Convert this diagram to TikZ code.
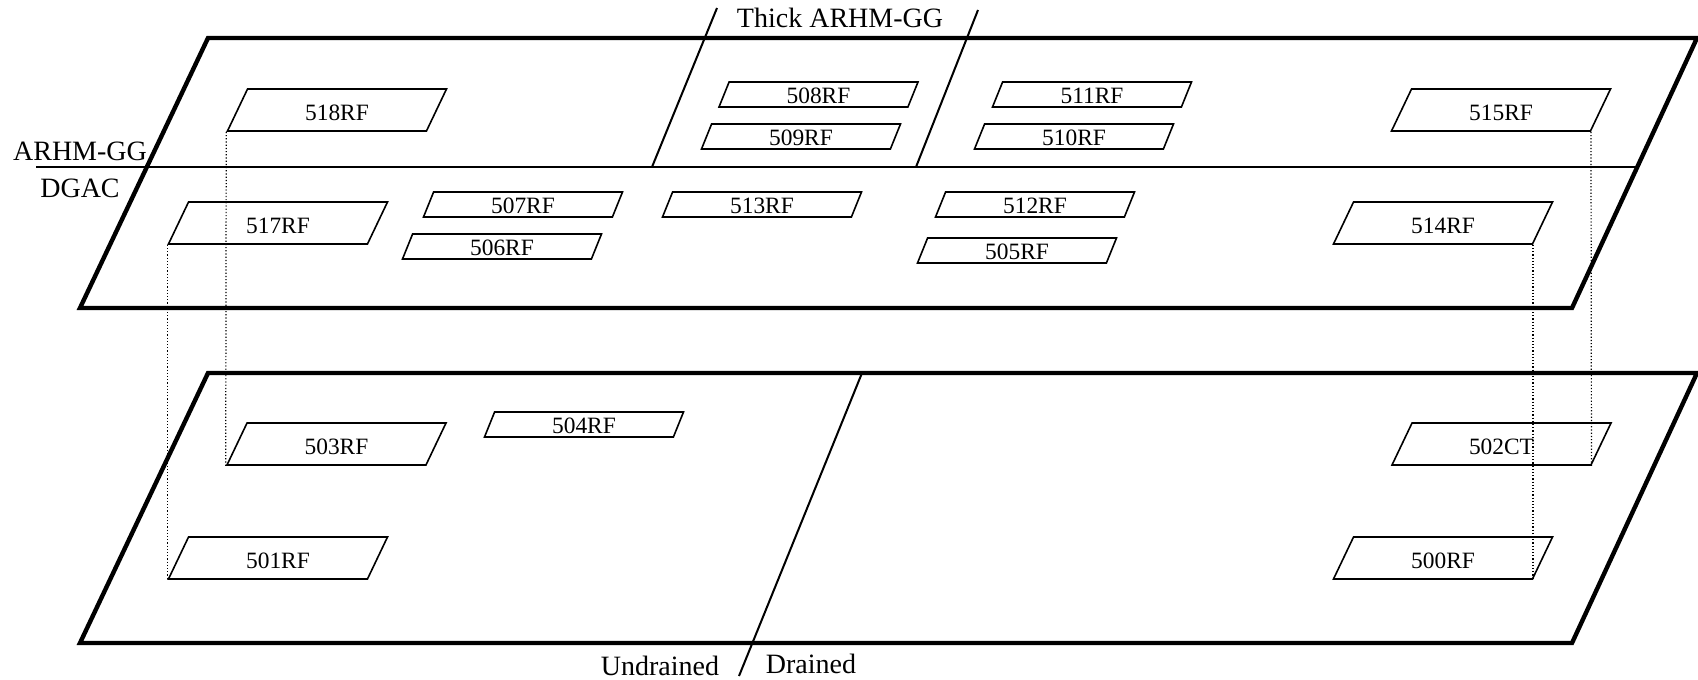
\documentclass[tikz,border=0pt]{standalone}
\usepackage{fontspec}
\setmainfont{Liberation Serif}
\usetikzlibrary{shapes.geometric}
\begin{document}
\begin{tikzpicture}
[x=0.5pt,y=-0.5pt,
  planeEdge/.style={line width=2.2pt,line join=miter},%
  zoneLine/.style={line width=1pt},%
  linkLine/.style={densely dotted,line width=0.6pt},%
  boxDecorate/.style={shape=trapezium,draw,line width=0.8pt,inner sep=0pt,
    trapezium stretches body,font=\fontsize{11.7}{13}\selectfont},%
  bigBox/.style={boxDecorate,trapezium left angle=64.5,trapezium right angle=115.5,
    text height=15.8pt,text depth=5.2pt,minimum width=109.5pt},%
  smallBox/.style={boxDecorate,trapezium left angle=68,trapezium right angle=112,
    text height=10.6pt,text depth=1.9pt,minimum width=99.5pt},%
  zoneLabel/.style={anchor=base,font=\fontsize{14}{16}\selectfont}]
\useasboundingbox (0,0) rectangle (1698,680);
%% the two planes
\draw[planeEdge] (208,38) -- (1697,38) -- (1572,308) -- (80,308) -- cycle;
\draw[planeEdge] (208,373) -- (1697,373) -- (1572,643) -- (80,643) -- cycle;
%% zone borders
\draw[zoneLine] (36,167) -- (1636,167);
\draw[zoneLine] (717,8) -- (652,167);
\draw[zoneLine] (978,10) -- (916,167);
\draw[zoneLine] (862,373) -- (739,676);
%% zone labels
\node (arhm) at (80,160) [zoneLabel] {ARHM-GG};
\node (dgac) at (80,197) [zoneLabel] {DGAC};
\node (thick) at (840,27) [zoneLabel] {Thick ARHM-GG};
\node (undrained) at (660,675) [zoneLabel] {Undrained};
\node (drained) at (811,673) [zoneLabel] {Drained};
%% gauges
\foreach \nodename/\x/\y in {518RF/337/110, 517RF/278/223, 515RF/1501/110,
  514RF/1443/223, 503RF/336.5/444, 501RF/278/558, 502CT/1501.5/444, 500RF/1443/558}
{
  \node (\nodename) at (\x,\y) [bigBox] {\nodename};
}
\foreach \nodename/\x/\y in {508RF/818.5/94.5, 509RF/801/136.5, 511RF/1092/94.5,
  510RF/1074/136.5, 507RF/523/204.5, 513RF/762/204.5, 512RF/1035/204.5,
  506RF/502/246.5, 505RF/1017/250.5, 504RF/584/424.5}
{
  \node (\nodename) at (\x,\y) [smallBox] {\nodename};
}
%% dotted links between the planes
\foreach \startnode/\endnode/\corner in {518RF/503RF/left, 517RF/501RF/left,
  515RF/502CT/right, 514RF/500RF/right}
{
  \draw[linkLine] (\startnode.bottom \corner\space corner) -- (\endnode.bottom \corner\space corner);
}
\end{tikzpicture}
\end{document}
